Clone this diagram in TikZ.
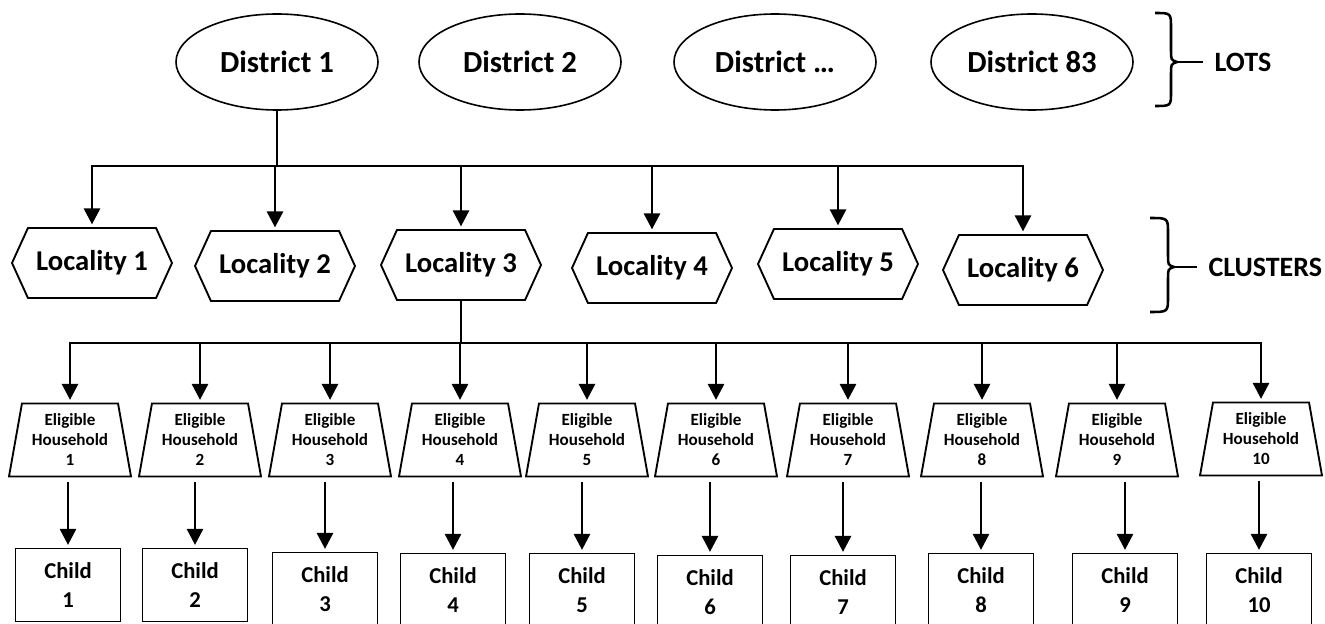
\documentclass[tikz,border=0pt]{standalone}
\usepackage{fontspec}
\setmainfont{Carlito}
\usetikzlibrary{arrows.meta,shapes,positioning,calc}

\begin{document}
\begin{tikzpicture}[x=0.75pt, y=-0.75pt,
    lot/.style = {draw, ellipse, line width=1.2pt, minimum width=151.5pt, minimum height=72pt, font=\bfseries\fontsize{23}{27}\selectfont},
    loc/.style = {draw, signal, signal to=west and east, signal pointer angle=131, line width=1.4pt, minimum width=120pt, minimum height=52.5pt, inner sep=0pt, font=\bfseries\fontsize{21.5}{25}\selectfont},
    hh/.style = {draw, trapezium, trapezium left angle=76, trapezium right angle=76, trapezium stretches body, line width=1.4pt, minimum width=91.5pt, minimum height=54.75pt, inner sep=0pt, align=center, font=\bfseries\fontsize{12.8}{15}\selectfont},
    kid/.style = {draw, rectangle, line width=1.4pt, minimum width=78.75pt, minimum height=54.75pt, align=center, font=\bfseries\fontsize{17}{21.5}\selectfont},
    arr/.style = {-{Triangle[width=12pt,length=12pt]}, line width=2.1pt, shorten >=2pt},
    bus/.style = {line width=2.1pt, line cap=rect},
    brc/.style = {line width=1.9pt},
    tag/.style = {anchor=west, inner xsep=8.5pt, font=\bfseries\fontsize{21}{25}\selectfont}]
    \useasboundingbox (0,0) rectangle (1325,624);

    % districts
    \node[lot] (d1) at (277,62) {District 1};
    \node[lot] (d2) at (520,62) {District 2};
    \node[lot] (dx) at (775,62) {District \dots};
    \node[lot] (d83) at (1032,62) {District 83};

    % localities
    \node[loc] (l1) at (92,263) {Locality 1};
    \node[loc] (l2) at (275,266) {Locality 2};
    \node[loc] (l3) at (461,265) {Locality 3};
    \node[loc] (l4) at (652,268) {Locality 4};
    \node[loc] (l5) at (838,264) {Locality 5};
    \node[loc] (l6) at (1023,270) {Locality 6};

    % households
    \node[hh] (h1) at (70,440) {Eligible\\Household\\1};
    \node[hh] (h2) at (200,440) {Eligible\\Household\\2};
    \node[hh] (h3) at (330,440) {Eligible\\Household\\3};
    \node[hh] (h4) at (460,440) {Eligible\\Household\\4};
    \node[hh] (h5) at (587,440) {Eligible\\Household\\5};
    \node[hh] (h6) at (716,440) {Eligible\\Household\\6};
    \node[hh] (h7) at (848,440) {Eligible\\Household\\7};
    \node[hh] (h8) at (982,440) {Eligible\\Household\\8};
    \node[hh] (h9) at (1117,440) {Eligible\\Household\\9};
    \node[hh] (h10) at (1261,439) {Eligible\\Household\\10};

    % children
    \node[kid] (c1) at (68,585) {Child\\1};
    \node[kid] (c2) at (195,585) {Child\\2};
    \node[kid] (c3) at (325,589) {Child\\3};
    \node[kid] (c4) at (453,590) {Child\\4};
    \node[kid] (c5) at (582,590) {Child\\5};
    \node[kid] (c6) at (710,592) {Child\\6};
    \node[kid] (c7) at (843,592) {Child\\7};
    \node[kid] (c8) at (981,590) {Child\\8};
    \node[kid] (c9) at (1125,590) {Child\\9};
    \node[kid] (c10) at (1259,590) {Child\\10};

    % district 1 -> localities
    \coordinate (bus1) at (0,166);
    \draw[bus] (d1.south) -- (d1.south |- bus1);
    \draw[bus] (l1.north |- bus1) -- (l6.north |- bus1);
    \foreach \n in {l1,l2,l3,l4,l5,l6}
        \draw[arr] (\n.north |- bus1) -- (\n.north);

    % locality 3 -> households
    \coordinate (bus2) at (0,343);
    \draw[bus] (l3.south) -- (l3.south |- bus2);
    \draw[bus] (h1.north |- bus2) -- (h10.north |- bus2);
    \foreach \n in {1,...,10} {
        \draw[arr] (h\n.north |- bus2) -- (h\n.north);
        \draw[arr] (c\n.north |- h\n.south) ++(0,5) -- (c\n.north);
    }

    % braces
    \draw[brc] (1155,13) .. controls (1171,13) .. (1171,28) -- (1171,50) .. controls (1171,60) .. (1177,62) .. controls (1171,64) .. (1171,74) -- (1171,92) .. controls (1171,106) .. (1155,106);
    \coordinate (lotstip) at (1177,62);
    \node[tag] (lots) at (1203,62) {LOTS};
    \draw[brc] (lotstip) -- (lots.west);

    \draw[brc] (1150,218) .. controls (1168,218) .. (1168,233) -- (1168,255) .. controls (1168,265) .. (1174,267) .. controls (1168,269) .. (1168,279) -- (1168,297) .. controls (1168,312) .. (1150,312);
    \coordinate (clutip) at (1174,267);
    \node[tag] (clusters) at (1197,267) {CLUSTERS};
    \draw[brc] (clutip) -- (clusters.west);
\end{tikzpicture}
\end{document}
